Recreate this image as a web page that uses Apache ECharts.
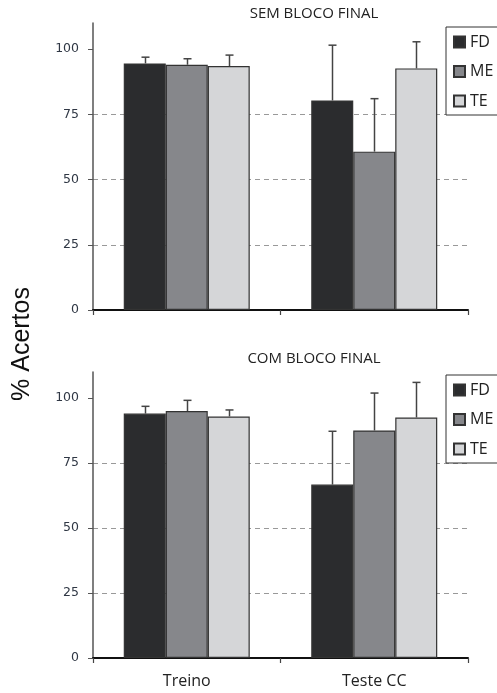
<!DOCTYPE html>
<html>
<head>
<meta charset="utf-8">
<script src="https://cdn.jsdelivr.net/npm/echarts@6/dist/echarts.min.js"></script>
<style>
  html, body { margin: 0; padding: 0; background: #fff; }
  #chart { width: 497px; height: 693px; }
</style>
</head>
<body>
<div id="chart"></div>
<script>
// ---- data ----
var categories = ['Treino', 'Teste CC'];
var seriesNames = ['FD', 'ME', 'TE'];
var panelTitles = ['SEM BLOCO FINAL', 'COM BLOCO FINAL'];
var yTicks = [0, 25, 50, 75, 100];

// Panel 1: SEM BLOCO FINAL (means and upper error)
var semFD = [94.5, 80.3];
var semME = [94.0, 60.7];
var semTE = [93.5, 92.6];
var semFDerr = [2.4, 21.2];
var semMEerr = [2.3, 20.3];
var semTEerr = [4.2, 10.2];

// Panel 2: COM BLOCO FINAL
var comFD = [94.0, 66.7];
var comME = [95.0, 87.5];
var comTE = [92.9, 92.5];
var comFDerr = [2.8, 20.5];
var comMEerr = [4.1, 14.4];
var comTEerr = [2.5, 13.5];

var colors = ['#2b2c2e', '#86878b', '#d5d6d8'];
var BAR_FRAC = 0.224;

var chart = echarts.init(document.getElementById('chart'), null, { renderer: 'canvas' });

function errData(means, errs, k) {
  return means.map(function (m, i) { return [i, m, m + errs[i], k]; });
}

function errRender(params, api) {
  var cat = api.value(0), lo = api.value(1), hi = api.value(2), k = api.value(3);
  var band = api.size([1, 0])[0];
  var off = (k - 1) * band * BAR_FRAC;
  var pLo = api.coord([cat, lo]);
  var pHi = api.coord([cat, hi]);
  var x = Math.round(pLo[0] + off) + 0.5;
  var hw = 4;
  var st = { stroke: '#444', lineWidth: 1.5 };
  return {
    type: 'group',
    children: [
      { type: 'line', shape: { x1: x, y1: pLo[1], x2: x, y2: pHi[1] }, style: st },
      { type: 'line', shape: { x1: x - hw, y1: pHi[1], x2: x + hw, y2: pHi[1] }, style: st }
    ]
  };
}

function makeYAxis(idx) {
  return {
    type: 'value', gridIndex: idx, min: 0, max: 110, interval: 25,
    axisLine: { show: true, lineStyle: { color: '#555', width: 1.5 } },
    axisTick: { show: true, length: 5, customValues: yTicks, lineStyle: { color: '#555' } },
    axisLabel: {
      customValues: yTicks, margin: 14, fontFamily: 'DejaVu Sans', fontSize: 12.5, color: '#2f3744'
    },
    splitLine: { show: true, showMinLine: false, showMaxLine: false,
      lineStyle: { type: [5, 4], color: '#999', width: 1 } }
  };
}

function makeXAxis(idx, showLabel) {
  return {
    type: 'category', gridIndex: idx, data: categories, boundaryGap: true,
    axisLine: { show: true, lineStyle: { color: '#111', width: 2 } },
    axisTick: { show: true, length: 5, lineStyle: { color: '#444', width: 1.2 } },
    axisLabel: { show: showLabel, margin: 15, fontFamily: 'Open Sans', fontSize: 16, color: '#222' }
  };
}

function makeLegend(top) {
  return {
    orient: 'vertical', left: 446, top: top, data: seriesNames,
    icon: 'rect', itemWidth: 11, itemHeight: 11, itemGap: 11.5,
    padding: [6, 8, 5, 7],
    borderColor: '#333', borderWidth: 1, backgroundColor: '#fff',
    textStyle: { fontFamily: 'Open Sans', fontSize: 16, color: '#222', lineHeight: 18 }
  };
}

var panels = [
  { means: [semFD, semME, semTE], errs: [semFDerr, semMEerr, semTEerr] },
  { means: [comFD, comME, comTE], errs: [comFDerr, comMEerr, comTEerr] }
];

var series = [];
panels.forEach(function (p, g) {
  seriesNames.forEach(function (name, k) {
    series.push({
      name: name, type: 'bar', xAxisIndex: g, yAxisIndex: g,
      data: p.means[k], barWidth: (BAR_FRAC * 100) + '%', barGap: '0%',
      itemStyle: { color: colors[k], borderColor: '#333', borderWidth: 1.2 },
      emphasis: { disabled: true }, z: 2
    });
  });
  seriesNames.forEach(function (name, k) {
    series.push({
      type: 'custom', xAxisIndex: g, yAxisIndex: g, z: 3,
      data: errData(p.means[k], p.errs[k], k),
      renderItem: errRender, silent: true
    });
  });
});

var option = {
  animation: false,
  backgroundColor: '#fff',
  grid: [
    { left: 93, right: 29, top: 23, bottom: 383 },
    { left: 93, right: 29, top: 372, bottom: 35 }
  ],
  xAxis: [makeXAxis(0, false), makeXAxis(1, true)],
  yAxis: [makeYAxis(0), makeYAxis(1)],
  legend: [makeLegend(27), makeLegend(375)],
  graphic: [
    { type: 'text', x: 314, y: 14, style: { text: panelTitles[0], align: 'center', verticalAlign: 'middle',
      fontFamily: 'Open Sans', fontSize: 15, fill: '#222' } },
    { type: 'text', x: 314, y: 359, style: { text: panelTitles[1], align: 'center', verticalAlign: 'middle',
      fontFamily: 'Open Sans', fontSize: 15, fill: '#222' } },
    { type: 'text', x: 22, y: 344, rotation: Math.PI / 2, style: { text: '% Acertos', align: 'center',
      verticalAlign: 'middle', fontFamily: 'Liberation Sans', fontSize: 25, fill: '#111' } }
  ],
  series: series
};

chart.setOption(option);
</script>
</body>
</html>
